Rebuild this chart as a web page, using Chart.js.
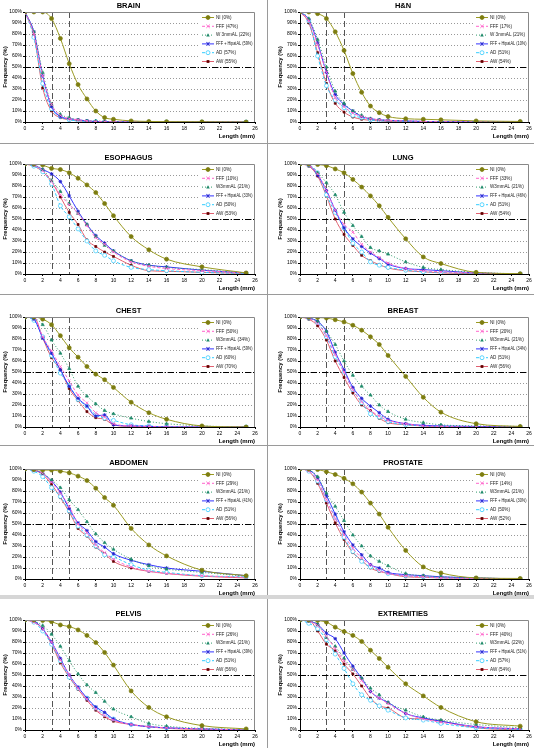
<!DOCTYPE html>
<html>
<head>
<meta charset="utf-8">
<script src="https://cdn.jsdelivr.net/npm/chart.js@4.4.1/dist/chart.umd.min.js"></script>
<style>
  html, body { margin: 0; padding: 0; background: #fff; }
  body { position: relative; width: 534px; height: 748px; overflow: hidden; }
  canvas { position: absolute; }
  .sep { position: absolute; background: #9a9a9a; }
</style>
</head>
<body>

<div class="sep" style="left:267px;top:0;width:1px;height:748px"></div>
<div class="sep" style="left:0;top:143px;width:534px;height:1px"></div>
<div class="sep" style="left:0;top:294px;width:534px;height:1px"></div>
<div class="sep" style="left:0;top:445px;width:534px;height:1px"></div>
<div class="sep" style="left:0;top:595px;width:534px;height:4px;background:#d6d6d6"></div>

<script>
// ───────── data ─────────
const lengthsMm = [0, 1, 2, 3, 4, 5, 6, 7, 8, 9, 10, 12, 14, 16, 20, 25];
const refLengths = [3, 5];     // dashed verticals
const refFreq = 50;            // dash-dot horizontal

// rows: NI, FFF, W3mmAL, FFF + HipatAL, AD, AW
const brain = [
  [100, 100, 100, 94, 76, 53, 34, 21, 10, 4, 2.5, 1, 0.5, 0.3, 0.2, 0],
  [100, 80, 42, 16, 6, 3, 2, 1, 0.5, 0.3, 0.2, 0.1, 0, 0, 0, 0],
  [100, 82, 45, 16, 7, 4, 2, 1, 1, 0.5, 0.3, 0.2, 0, 0, 0, 0],
  [100, 82, 42, 14, 5, 3, 2, 1, 0.5, 0.3, 0.2, 0.1, 0, 0, 0, 0],
  [100, 77, 35, 12, 5, 2, 1, 0.5, 0.3, 0.2, 0.1, 0, 0, 0, 0, 0],
  [100, 79, 31, 10, 4, 2, 1, 0.5, 0.3, 0.2, 0.1, 0, 0, 0, 0, 0]
];
const headNeck = [
  [100, 100, 98.5, 94, 82, 65, 44, 27, 14.5, 8.5, 5, 3, 2.5, 2, 1, 0.5],
  [100, 92, 70, 45, 22, 14, 8, 5, 3, 2, 1.5, 1, 0.5, 0.3, 0.2, 0.1],
  [100, 94, 75, 50, 28, 17, 10, 6, 3, 2, 1.5, 1, 0.5, 0.3, 0.2, 0],
  [100, 93, 72, 45, 25, 16, 10, 5, 3, 2, 1.5, 1, 0.5, 0.3, 0.2, 0],
  [100, 92, 60, 33, 20, 13, 6, 4, 2, 1, 1, 0.5, 0.3, 0.2, 0.1, 0],
  [100, 90, 63, 35, 17, 9, 4.5, 2.5, 1.5, 1, 0.5, 0.3, 0.2, 0.1, 0, 0]
];
const esophagus = [
  [100, 100, 99, 96, 95, 92, 87, 81, 74, 64, 53, 34, 22, 13.5, 6.5, 1],
  [100, 99, 94, 84, 72, 63, 55, 44, 33, 27, 20, 11, 7, 5, 3, 1],
  [100, 99, 95, 85, 75, 64, 55, 45, 34, 26, 21, 12, 8, 6, 4, 1],
  [100, 99, 95, 91, 84, 71, 57, 45, 35, 28, 21, 12, 8, 6.5, 3.5, 1],
  [100, 98, 93, 82, 62, 52, 41, 30, 21, 17, 12, 6, 4, 3, 1.5, 0.5],
  [100, 98, 93, 84, 70, 56, 45, 31, 25, 20, 16, 8, 3, 2.5, 1.5, 0.5]
];
const lung = [
  [100, 100, 99.5, 98.5, 95.5, 92, 86, 79, 71, 62, 51.5, 32, 15.5, 9.5, 1.5, 0.3],
  [100, 99, 91, 76, 58, 45, 38, 27, 20, 15, 10, 5, 3, 2, 1, 0],
  [100, 99, 92, 83, 72, 56, 44, 34, 24, 21, 18, 11, 6, 4, 1.5, 0],
  [100, 99, 90, 76, 58, 42, 32, 25, 19, 14, 9, 5, 4, 3, 1, 0],
  [100, 99, 92, 72, 56, 42, 28, 20, 11, 8, 6, 3.5, 2, 1.5, 0.5, 0],
  [100, 98, 89, 71, 50, 36, 26, 17, 12, 8.5, 5.5, 3, 2, 1, 0.3, 0]
];
const chest = [
  [100, 100, 98, 93, 83, 72, 63.5, 55, 48, 43, 36, 22.5, 13, 7, 1, 0],
  [100, 100, 82, 69, 55, 42, 29, 22, 13, 9, 3, 1, 0.5, 0, 0, 0],
  [100, 99, 93, 79, 67, 53, 37, 28, 21, 15, 12, 8, 5, 3, 1, 0],
  [100, 98, 81, 67, 52, 37, 26, 19, 10, 11, 2, 1, 0.5, 0, 0, 0],
  [100, 97, 82, 65, 49, 38, 25, 19, 11, 8, 6, 2, 1, 0, 0, 0],
  [100, 100, 81, 63, 52, 35, 24, 14, 8.5, 7, 2, 0.5, 0, 0, 0, 0]
];
const breast = [
  [100, 100, 99.5, 99, 97.5, 95.5, 92.5, 88, 82, 75, 65, 46, 27, 13.5, 3, 0.5],
  [100, 99, 94, 83, 66, 50, 34, 23, 15, 10, 6, 3, 1, 0.5, 0, 0],
  [100, 99, 96, 87, 75, 60, 47, 37, 29, 20, 14, 7, 4, 2, 1, 0.5],
  [100, 99, 96, 87, 68, 52, 36, 26, 19, 13, 7, 3, 1.5, 1, 0.5, 0],
  [100, 99, 95, 82, 64, 50, 34, 22, 12, 9, 5, 2, 1, 0.5, 0, 0],
  [100, 98, 92, 79, 60, 45, 31, 20, 15, 8, 4, 2, 1, 0, 0, 0]
];
const abdomen = [
  [100, 99.5, 99, 99, 98, 96.5, 93.5, 89.5, 82.5, 74, 67, 46, 31, 21, 8, 3],
  [100, 99, 96, 88, 78, 66, 50, 42, 31, 24, 18, 11, 7, 5, 3, 1.5],
  [100, 99, 96, 90, 83, 72, 63, 52, 41, 33, 27, 18, 12, 9, 6, 2.5],
  [100, 99, 96, 89, 79, 64, 51, 44, 34, 29, 23, 17, 13, 10, 7, 3],
  [100, 98, 93, 83, 75, 62, 48, 40, 30, 22, 20, 13, 8, 6, 3, 2],
  [100, 99, 95, 86, 74, 61, 46, 39, 29, 23, 16, 10, 7, 5, 2.5, 1]
];
const prostate = [
  [100, 100, 99.5, 97.5, 95, 91.5, 86.5, 79, 69, 59, 47, 26, 11, 5.5, 1, 0.5],
  [100, 98, 90, 72, 55, 40, 28, 19, 13, 8, 5, 3, 2, 1, 0.5, 0],
  [100, 99, 93, 78, 66, 53, 40, 30, 21, 16, 12, 5, 3, 2, 1, 0],
  [100, 99, 92, 76, 59, 43, 31, 22, 13, 10, 6, 4, 3, 2, 1, 0],
  [100, 98, 89, 72, 56, 38, 25, 16, 11, 8, 5, 3, 2, 1, 0.5, 0],
  [100, 98, 87, 69, 51, 36, 24, 17, 10, 7, 5, 2, 1.5, 1, 0.5, 0]
];
const pelvis = [
  [100, 100, 99.5, 98.5, 95.5, 94, 91, 86, 79.5, 70.5, 59, 35.5, 20.5, 12, 4, 1],
  [100, 98, 92, 80, 64, 50, 38, 28, 19, 13, 9, 5, 3, 2, 1, 0],
  [100, 99, 95, 87, 76, 63, 51, 41, 34, 26, 19, 12, 6, 3.5, 1.5, 0.5],
  [100, 99, 92, 80, 65, 50, 39, 29, 21, 16, 10, 5, 3, 2, 1, 0],
  [100, 98, 90, 78, 63, 48, 38, 29, 20, 14, 10, 5, 3, 2, 1, 0],
  [100, 98, 92, 78, 61, 48, 37, 27, 18, 12, 8, 5, 3, 1.5, 0.5, 0]
];
const extremities = [
  [100, 100, 99.5, 98, 93.5, 89.5, 86, 80.5, 72.5, 65, 57, 42, 31, 20.5, 7.5, 3.5],
  [100, 99, 95, 85, 74, 63, 55, 45, 35, 29, 24, 15, 10, 7, 3, 1],
  [100, 99, 96, 84, 76, 65, 55, 47, 38, 32, 25, 18, 12, 9, 5, 2],
  [100, 99, 96, 88, 83, 70, 58, 47, 35, 29, 25, 15, 11, 8, 3, 1],
  [100, 97, 92, 82, 69, 56, 42, 32, 27, 22, 18, 11, 9, 6, 2, 0.5],
  [100, 100, 90, 78, 72, 60, 51, 40, 29, 22, 20, 11, 10, 8, 2, 0]
];

const brainLegend       = ['NI (0%)', 'FFF (47%)', 'W 3mmAL (22%)', 'FFF + HipatAL (59%)', 'AD (57%)', 'AW (55%)'];
const headNeckLegend    = ['NI (0%)', 'FFF (17%)', 'W 3mmAL (21%)', 'FFF + HipatAL (10%)', 'AD (51%)', 'AW (54%)'];
const esophagusLegend   = ['NI (0%)', 'FFF (10%)', 'W3mmAL (21%)', 'FFF + HipatAL (33%)', 'AD (50%)', 'AW (53%)'];
const lungLegend        = ['NI (0%)', 'FFF (33%)', 'W3mmAL (21%)', 'FFF + HipatAL (46%)', 'AD (51%)', 'AW (54%)'];
const chestLegend       = ['NI (0%)', 'FFF (50%)', 'W3mmAL (34%)', 'FFF + HipatAL (59%)', 'AD (60%)', 'AW (70%)'];
const breastLegend      = ['NI (0%)', 'FFF (20%)', 'W3mmAL (21%)', 'FFF + HipatAL (34%)', 'AD (51%)', 'AW (56%)'];
const abdomenLegend     = ['NI (0%)', 'FFF (29%)', 'W3mmAL (21%)', 'FFF + HipatAL (41%)', 'AD (51%)', 'AW (56%)'];
const prostateLegend    = ['NI (0%)', 'FFF (14%)', 'W3mmAL (21%)', 'FFF + HipatAL (30%)', 'AD (50%)', 'AW (52%)'];
const pelvisLegend      = ['NI (0%)', 'FFF (26%)', 'W3mmAL (21%)', 'FFF + HipatAL (39%)', 'AD (51%)', 'AW (56%)'];
const extremitiesLegend = ['NI (0%)', 'FFF (40%)', 'W3mmAL (22%)', 'FFF + HipatAL (51%)', 'AD (57%)', 'AW (54%)'];

const panels = [
  ['BRAIN', brain, brainLegend],
  ['H&N', headNeck, headNeckLegend],
  ['ESOPHAGUS', esophagus, esophagusLegend],
  ['LUNG', lung, lungLegend],
  ['CHEST', chest, chestLegend],
  ['BREAST', breast, breastLegend],
  ['ABDOMEN', abdomen, abdomenLegend],
  ['PROSTATE', prostate, prostateLegend],
  ['PELVIS', pelvis, pelvisLegend],
  ['EXTREMITIES', extremities, extremitiesLegend]
];

// ───────── styles ─────────
const FONT = '"Liberation Sans", Arial, sans-serif';
Chart.defaults.font.family = FONT;
Chart.defaults.color = '#000';

const seriesStyle = [
  { borderColor: '#9a9a22', borderDash: [],     pointStyle: 'circle',   fill: '#7d7d10', radius: 2 },
  { borderColor: '#ff66cc', borderDash: [3, 2], pointStyle: 'crossRot', fill: '#ff66cc', radius: 1.8 },
  { borderColor: '#2f9a6a', borderDash: [1, 2], pointStyle: 'triangle', fill: '#1f8a6a', radius: 1.8 },
  { borderColor: '#3333ff', borderDash: [],     pointStyle: 'star',     fill: '#2222cc', radius: 1.8 },
  { borderColor: '#33ccff', borderDash: [3, 2], pointStyle: 'circle',   fill: '#ffffff', radius: 2 },
  { borderColor: '#e06070', borderDash: [],     pointStyle: 'rect',     fill: '#660000', radius: 1.4 }
];

const rowTops = [0, 152, 305, 457, 608];

// ───────── plugins ─────────
function drawMarker(ctx, st, x, y) {
  const r = st.radius;
  ctx.save();
  ctx.setLineDash([]);
  ctx.lineWidth = 0.8;
  ctx.strokeStyle = st.pointStyle === 'circle' && st.fill === '#ffffff' ? st.borderColor : st.fill;
  ctx.fillStyle = st.fill;
  ctx.beginPath();
  if (st.pointStyle === 'circle') {
    ctx.arc(x, y, r, 0, Math.PI * 2); ctx.fill(); ctx.stroke();
  } else if (st.pointStyle === 'rect') {
    ctx.fillRect(x - r, y - r, 2 * r, 2 * r);
  } else if (st.pointStyle === 'triangle') {
    ctx.moveTo(x, y - r); ctx.lineTo(x + r, y + r * 0.8); ctx.lineTo(x - r, y + r * 0.8);
    ctx.closePath(); ctx.fill();
  } else {
    ctx.moveTo(x - r, y - r); ctx.lineTo(x + r, y + r);
    ctx.moveTo(x + r, y - r); ctx.lineTo(x - r, y + r);
    if (st.pointStyle === 'star') { ctx.moveTo(x, y - r); ctx.lineTo(x, y + r); }
    ctx.stroke();
  }
  ctx.restore();
}

const refLines = {
  id: 'refLines',
  beforeDatasetsDraw(chart) {
    const { ctx, chartArea: a, scales: { x, y } } = chart;
    ctx.save();
    ctx.lineWidth = 1;
    ctx.strokeStyle = '#555';
    ctx.setLineDash([6, 3]);
    refLengths.forEach(v => {
      const px = Math.round(x.getPixelForValue(v)) + 0.5;
      ctx.beginPath(); ctx.moveTo(px, a.top); ctx.lineTo(px, a.bottom); ctx.stroke();
    });
    ctx.strokeStyle = '#000';
    ctx.setLineDash([6, 2, 1, 2]);
    const py = Math.round(y.getPixelForValue(refFreq)) + 0.5;
    ctx.beginPath(); ctx.moveTo(a.left, py); ctx.lineTo(a.right, py); ctx.stroke();
    ctx.restore();
  }
};

const boxAndLegend = {
  id: 'boxAndLegend',
  afterDraw(chart) {
    const { ctx, chartArea: a } = chart;
    ctx.save();
    // plot frame, top and right
    ctx.strokeStyle = '#888';
    ctx.lineWidth = 1;
    ctx.beginPath();
    ctx.moveTo(a.left, a.top + 0.5); ctx.lineTo(a.right - 0.5, a.top + 0.5); ctx.lineTo(a.right - 0.5, a.bottom);
    ctx.stroke();

    // legend inside top right
    const w = 56, rowH = 8.8;
    const left = a.right - w, top = a.top + 1;
    const n = chart.data.datasets.length;
    ctx.fillStyle = '#fff';
    ctx.fillRect(left, top, w - 1.5, rowH * n + 1);
    ctx.font = '4.6px ' + FONT;
    ctx.textBaseline = 'middle';
    chart.data.datasets.forEach((ds, i) => {
      const st = seriesStyle[i];
      const yy = top + 4.5 + i * rowH;
      ctx.strokeStyle = st.borderColor;
      ctx.lineWidth = 1;
      ctx.setLineDash(st.borderDash);
      ctx.beginPath(); ctx.moveTo(left + 3, yy); ctx.lineTo(left + 15, yy); ctx.stroke();
      ctx.setLineDash([]);
      drawMarker(ctx, st, left + 9, yy);
      ctx.fillStyle = '#222';
      ctx.fillText(ds.label, left + 17, yy, w - 19.5);
    });
    ctx.restore();
  }
};

// ───────── charts ─────────
function makePanel(idx, title, values, legend) {
  const col = idx % 2, row = Math.floor(idx / 2);
  const cv = document.createElement('canvas');
  cv.width = 266; cv.height = 140;
  cv.style.left = (col ? 268 : 0) + 'px';
  cv.style.top = rowTops[row] + 'px';
  cv.style.width = '266px'; cv.style.height = '140px';
  document.body.appendChild(cv);

  const datasets = values.map((v, i) => {
    const st = seriesStyle[i];
    return {
      label: legend[i],
      data: v.map((f, j) => ({ x: lengthsMm[j], y: f })),
      borderColor: st.borderColor,
      borderDash: st.borderDash,
      borderWidth: 1,
      tension: 0.4,
      cubicInterpolationMode: 'monotone',
      pointStyle: st.pointStyle,
      pointRadius: st.radius,
      pointBorderWidth: st.pointStyle === 'crossRot' || st.pointStyle === 'star' ? 0.9 : 0.7,
      pointBackgroundColor: st.fill,
      pointBorderColor: st.fill === '#ffffff' ? st.borderColor : st.fill
    };
  });

  new Chart(cv, {
    type: 'line',
    data: { datasets },
    plugins: [refLines, boxAndLegend],
    options: {
      responsive: false,
      animation: false,
      layout: { padding: { left: col ? 9 : 2, right: col ? 5 : 11, top: 0, bottom: 0 } },
      plugins: {
        legend: { display: false },
        tooltip: { enabled: false },
        title: {
          display: true, text: title, color: '#000',
          font: { size: 7.5, weight: 'bold' }, padding: { top: 1, bottom: 2 }
        }
      },
      scales: {
        x: {
          type: 'linear', min: 0, max: 26,
          ticks: { stepSize: 2, font: { size: 5 }, color: '#000', padding: 2, maxRotation: 0 },
          grid: { drawOnChartArea: false, tickLength: 2, color: '#000' },
          border: { color: '#000' },
          title: { display: true, text: 'Length (mm)', align: 'end', font: { size: 6, weight: 'bold' }, padding: 0 },
          afterFit: s => { s.height = 18; }
        },
        y: {
          min: 0, max: 100,
          ticks: { stepSize: 10, font: { size: 5 }, color: '#000', padding: 1, callback: v => v + '%' },
          grid: { color: c => (c.tick.value === 0 || c.tick.value === 100) ? 'rgba(0,0,0,0)' : '#999', tickLength: 2, tickColor: '#000' },
          border: { color: '#000', dash: [1, 2] },
          title: { display: true, text: 'Frequency (%)', font: { size: 6, weight: 'bold' }, padding: 0 },
          afterFit: s => { s.width = 23; }
        }
      }
    }
  });
}

panels.forEach((p, i) => makePanel(i, p[0], p[1], p[2]));
</script>
</body>
</html>
